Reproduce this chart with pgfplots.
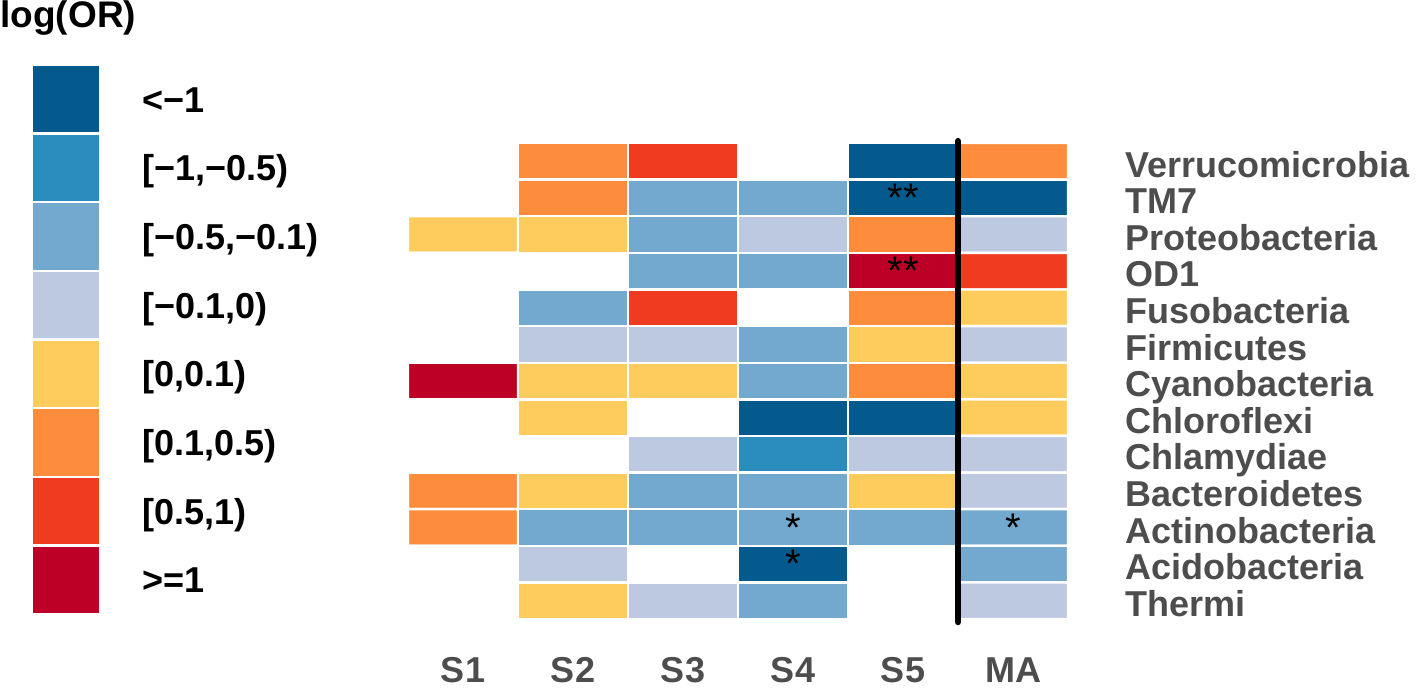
\documentclass[border=0pt]{standalone}
\usepackage{pgfplots}
\pgfplotsset{compat=1.18}
\usepackage{pgfplotstable}
\usepackage{fontspec}
\setmainfont{Liberation Sans}
\definecolor{labgray}{HTML}{4D4D4D}
\definecolor{c1}{HTML}{045A8D}
\definecolor{c2}{HTML}{2B8CBE}
\definecolor{c3}{HTML}{74A9CF}
\definecolor{c4}{HTML}{BDC9E1}
\definecolor{c5}{HTML}{FECC5C}
\definecolor{c6}{HTML}{FD8D3C}
\definecolor{c7}{HTML}{F03B20}
\definecolor{c8}{HTML}{BD0026}

% category code: 0 = empty, 1 = <-1, 2 = [-1,-0.5), ..., 8 = >=1
% y = 0 is the top row (Verrucomicrobia), y = 12 the bottom row (Thermi)
\pgfplotstableread{
x y c
0 0 0
1 0 6
2 0 7
3 0 0
4 0 1
5 0 6
0 1 0
1 1 6
2 1 3
3 1 3
4 1 1
5 1 1
0 2 5
1 2 5
2 2 3
3 2 4
4 2 6
5 2 4
0 3 0
1 3 0
2 3 3
3 3 3
4 3 8
5 3 7
0 4 0
1 4 3
2 4 7
3 4 0
4 4 6
5 4 5
0 5 0
1 5 4
2 5 4
3 5 3
4 5 5
5 5 4
0 6 8
1 6 5
2 6 5
3 6 3
4 6 6
5 6 5
0 7 0
1 7 5
2 7 0
3 7 1
4 7 1
5 7 5
0 8 0
1 8 0
2 8 4
3 8 2
4 8 4
5 8 4
0 9 6
1 9 5
2 9 3
3 9 3
4 9 5
5 9 4
0 10 6
1 10 3
2 10 3
3 10 3
4 10 3
5 10 3
0 11 0
1 11 4
2 11 0
3 11 1
4 11 0
5 11 3
0 12 0
1 12 5
2 12 4
3 12 3
4 12 0
5 12 4
}\heat

\pgfplotstableread{
x y s
4 1 **
4 3 **
3 10 *
3 11 *
5 10 *
}\stars

\begin{document}
\begin{tikzpicture}
\path[use as bounding box] (0,0) rectangle (708pt,-343.5pt);
\node[anchor=base west, inner sep=0pt, font=\fontsize{18.5pt}{20pt}\selectfont\bfseries] at (0pt,-13.5pt) {log(OR)};

\begin{axis}[
  at={(204pt,-309.5pt)}, anchor=south west,
  scale only axis, width=330pt, height=238pt,
  xmin=-0.5, xmax=5.5, ymin=-0.5, ymax=12.5,
  y dir=reverse,
  clip=false,
  axis line style={draw=none},
  major tick length=0pt,
  xtick={0,...,5}, xticklabels={S1,S2,S3,S4,S5,MA},
  ytick={0,...,12},
  yticklabels={Verrucomicrobia,TM7,Proteobacteria,OD1,Fusobacteria,Firmicutes,Cyanobacteria,Chloroflexi,Chlamydiae,Bacteroidetes,Actinobacteria,Acidobacteria,Thermi},
  yticklabel pos=right,
  xticklabel style={anchor=base, inner sep=0pt, yshift=-31.5pt, font=\fontsize{18pt}{20pt}\selectfont\bfseries, text=labgray},
  yticklabel style={anchor=base west, inner sep=0pt, xshift=28.5pt, yshift=-7.85pt, font=\fontsize{18pt}{20pt}\selectfont\bfseries, text=labgray},
  colormap={heat}{rgb255=(255,255,255) rgb255=(4,90,141) rgb255=(43,140,190) rgb255=(116,169,207) rgb255=(189,201,225) rgb255=(254,204,92) rgb255=(253,141,60) rgb255=(240,59,32) rgb255=(189,0,38)},
  colormap access=direct,
]
\addplot[matrix plot, mesh/cols=6, point meta=explicit, shader=faceted, faceted color=white, line width=1.2pt] table[x=x, y=y, meta=c] \heat;
\addplot[black, line width=3.3pt, line cap=round] coordinates {(4.5,-0.55) (4.5,12.58)};
\addplot[only marks, mark=text, text mark={}, point meta=explicit symbolic,
  nodes near coords, nodes near coords align={center},
  every node near coord/.append style={font=\fontsize{20pt}{20pt}\selectfont, text=black, inner sep=0pt}]
  table[x=x, y=y, meta=s] \stars;
\end{axis}

\begin{axis}[
  at={(16pt,-307pt)}, anchor=south west,
  scale only axis, width=34pt, height=274.5pt,
  xmin=0, xmax=1, ymin=-0.5, ymax=7.5,
  xbar, bar width=1, bar shift=0pt,
  clip=false,
  axis line style={draw=none},
  major tick length=0pt,
  xtick=\empty, ytick={0,...,7},
  yticklabels={{>=1},{[0.5,1)},{[0.1,0.5)},{[0,0.1)},{[−0.1,0)},{[−0.5,−0.1)},{[−1,−0.5)},{<−1}},
  yticklabel pos=right,
  yticklabel style={anchor=base west, inner sep=0pt, xshift=21pt, yshift=-6.5pt, font=\fontsize{18pt}{20pt}\selectfont\bfseries, text=black},
]
\addplot[fill=c8, draw=white, line width=1.2pt] coordinates {(1,0)};
\addplot[fill=c7, draw=white, line width=1.2pt] coordinates {(1,1)};
\addplot[fill=c6, draw=white, line width=1.2pt] coordinates {(1,2)};
\addplot[fill=c5, draw=white, line width=1.2pt] coordinates {(1,3)};
\addplot[fill=c4, draw=white, line width=1.2pt] coordinates {(1,4)};
\addplot[fill=c3, draw=white, line width=1.2pt] coordinates {(1,5)};
\addplot[fill=c2, draw=white, line width=1.2pt] coordinates {(1,6)};
\addplot[fill=c1, draw=white, line width=1.2pt] coordinates {(1,7)};
\end{axis}
\end{tikzpicture}
\end{document}
